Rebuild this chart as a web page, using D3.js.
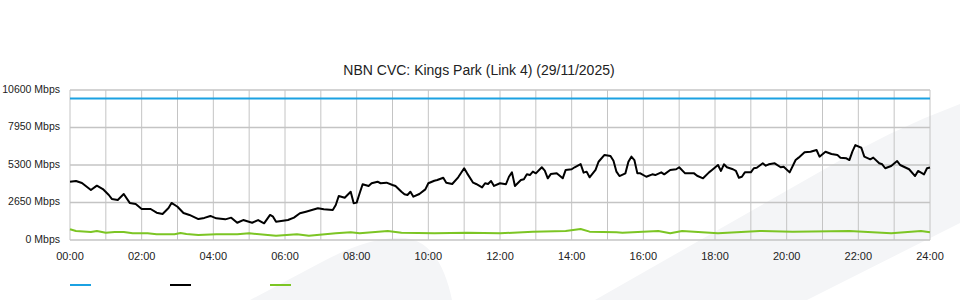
<!DOCTYPE html>
<html>
<head>
<meta charset="utf-8">
<script src="https://cdn.jsdelivr.net/npm/d3@7"></script>
<style>
  body { margin: 0; background: #fff; }
  svg { display: block; font-family: "Liberation Sans", Arial, sans-serif; }
  .grid line { stroke: #c4c4c4; stroke-width: 1; }
  .axis text { fill: #222; font-size: 11px; }
  .axis.y-labels text { font-size: 10.5px; }
  .title { fill: #222; font-size: 14px; }
</style>
</head>
<body>
<div id="chart"></div>
<script>
// capacity of the link (Mbps)
var capacityMinutes = [0, 1440],
    capacity = [10000, 10000];

// download traffic, minutes after midnight -> Mbps
var trafficMinutes = [0,10,20,35,45,55,65,70,80,90,100,110,120,135,145,155,165,170,180,190,200,215,225,235,245,260,270,280,290,305,315,325,335,340,345,365,375,385,395,415,425,440,445,450,460,470,475,480,485,490,500,505,515,520,530,540,545,555,560,565,570,575,585,595,600,610,615,625,630,640,650,660,665,675,680,690,695,700,705,710,720,730,735,740,745,755,760,765,770,775,780,790,795,800,805,815,825,830,840,845,855,860,865,870,880,885,895,905,910,915,920,930,935,940,945,950,955,965,975,980,990,995,1005,1015,1020,1030,1045,1050,1060,1070,1075,1085,1090,1095,1100,1110,1115,1120,1125,1130,1140,1145,1150,1160,1165,1170,1180,1190,1195,1205,1215,1220,1230,1240,1250,1255,1265,1275,1285,1290,1300,1305,1310,1315,1325,1330,1340,1345,1355,1360,1365,1375,1385,1390,1405,1415,1420,1430,1435,1440],
    trafficIn = [4120,4170,4030,3530,3840,3600,3180,2900,2830,3250,2620,2540,2190,2190,1930,1840,2260,2620,2350,1910,1770,1480,1560,1700,1530,1460,1580,1220,1410,1220,1410,1180,1770,1650,1290,1410,1580,1890,2000,2240,2170,2120,2470,3110,2990,3410,2590,2640,3300,3940,3820,4010,4120,4010,4050,3890,3820,3410,3230,3180,3410,3060,3250,3580,4010,4190,4240,4400,4050,3960,4430,5070,4710,4050,3960,3720,4010,3960,4170,3820,4010,3940,4470,4780,3820,4240,4290,4640,4590,4830,4710,5140,4900,4360,4660,4710,4360,4950,5000,5140,5370,4760,4830,4430,4950,5530,6010,5940,5600,4830,4520,4710,5530,5890,5650,4710,4710,4470,4640,4590,4780,4640,4950,5000,5140,4710,4710,4540,4360,4780,4950,5300,4880,5350,5140,5000,4880,4400,4470,4780,4780,5070,5110,5420,5250,5350,5420,5140,5180,4780,5650,5820,6200,6240,6360,5890,6240,6080,6010,5820,5770,5650,6240,6710,6520,5890,5700,5820,5420,5350,5070,5230,5580,5300,5000,4520,4880,4640,5070,5120];

// upload traffic
var uploadMinutes = [0,10,35,45,60,75,90,105,130,145,175,185,195,215,245,280,300,345,380,400,445,470,485,532,555,610,665,720,775,830,855,870,915,925,985,1005,1025,1085,1155,1210,1305,1375,1425,1440],
    trafficOut = [756,636,565,636,515,565,565,473,473,402,402,495,424,353,402,402,473,304,402,304,473,544,473,636,515,473,515,473,590,636,777,590,544,515,636,473,636,473,636,590,636,473,636,544];

var yTicks = [0, 2650, 5300, 7950, 10600],
    xTickLabels = ["00:00","02:00","04:00","06:00","08:00","10:00","12:00","14:00","16:00","18:00","20:00","22:00","24:00"],
    chartTitle = "NBN CVC: Kings Park (Link 4) (29/11/2025)";

var seriesColors = ["#1ba1e2", "#000000", "#7cc524"];

var width = 960,
    height = 300,
    margin = {top: 90, right: 30, bottom: 60, left: 70},
    innerWidth = width - margin.left - margin.right,
    innerHeight = height - margin.top - margin.bottom;

var xScale = d3.scaleLinear().domain([0, 1440]).range([0, innerWidth]),
    yScale = d3.scaleLinear().domain([0, 10600]).range([innerHeight, 0]);

var svg = d3.select("#chart").append("svg")
    .attr("width", width)
    .attr("height", height);

// faint background artwork
svg.append("path")
    .attr("d", "M250,300 L320,263 Q370,236 405,238 Q440,242 452,300 Z")
    .attr("fill", "#f4f5f7");
svg.append("path")
    .attr("d", "M595,300 L823,170 Q890,130 960,104 L960,223 L807,300 Z")
    .attr("fill", "#f4f5f7");

svg.append("text")
    .attr("class", "title")
    .attr("x", 479)
    .attr("y", 75)
    .attr("text-anchor", "middle")
    .text(chartTitle);

var g = svg.append("g")
    .attr("transform", "translate(" + margin.left + "," + margin.top + ")");

// hourly vertical grid
g.append("g")
    .attr("class", "grid")
    .selectAll("line")
    .data(d3.range(0, 1441, 60)).enter()
    .append("line")
      .attr("x1", function(d){ return xScale(d); })
      .attr("x2", function(d){ return xScale(d); })
      .attr("y1", 0)
      .attr("y2", innerHeight);

g.append("g")
    .attr("class", "grid")
    .selectAll("line")
    .data(yTicks).enter()
    .append("line")
      .attr("x1", 0)
      .attr("x2", innerWidth)
      .attr("y1", function(d){ return yScale(d); })
      .attr("y2", function(d){ return yScale(d); })
      .style("stroke-width", 1.5);

g.append("g")
    .attr("class", "axis y-labels")
    .selectAll("text")
    .data(yTicks).enter()
    .append("text")
      .attr("x", -10)
      .attr("y", function(d){ return yScale(d) - 1; })
      .attr("dy", "0.35em")
      .attr("text-anchor", "end")
      .text(function(d){ return d + " Mbps"; });

g.append("g")
    .attr("class", "axis")
    .selectAll("text")
    .data(xTickLabels).enter()
    .append("text")
      .attr("x", function(d, i){ return xScale(i * 120); })
      .attr("y", innerHeight + 20)
      .attr("text-anchor", "middle")
      .text(function(d){ return d; });

function drawSeries(minutes, values, color) {
  var pts = minutes.map(function(m, i){ return [m, values[i]]; });
  var line = d3.line()
      .x(function(d){ return xScale(d[0]); })
      .y(function(d){ return yScale(d[1]); });
  g.append("path")
      .datum(pts)
      .attr("fill", "none")
      .attr("stroke", color)
      .attr("stroke-width", 2)
      .attr("stroke-linejoin", "round")
      .attr("d", line);
}

drawSeries(uploadMinutes, trafficOut, seriesColors[2]);
drawSeries(trafficMinutes, trafficIn, seriesColors[1]);
drawSeries(capacityMinutes, capacity, seriesColors[0]);

// legend swatches
svg.append("g")
    .selectAll("line")
    .data(seriesColors).enter()
    .append("line")
      .attr("x1", function(d, i){ return 70 + i * 100; })
      .attr("x2", function(d, i){ return 91 + i * 100; })
      .attr("y1", 285)
      .attr("y2", 285)
      .attr("stroke", function(d){ return d; })
      .attr("stroke-width", 2);
</script>
</body>
</html>
